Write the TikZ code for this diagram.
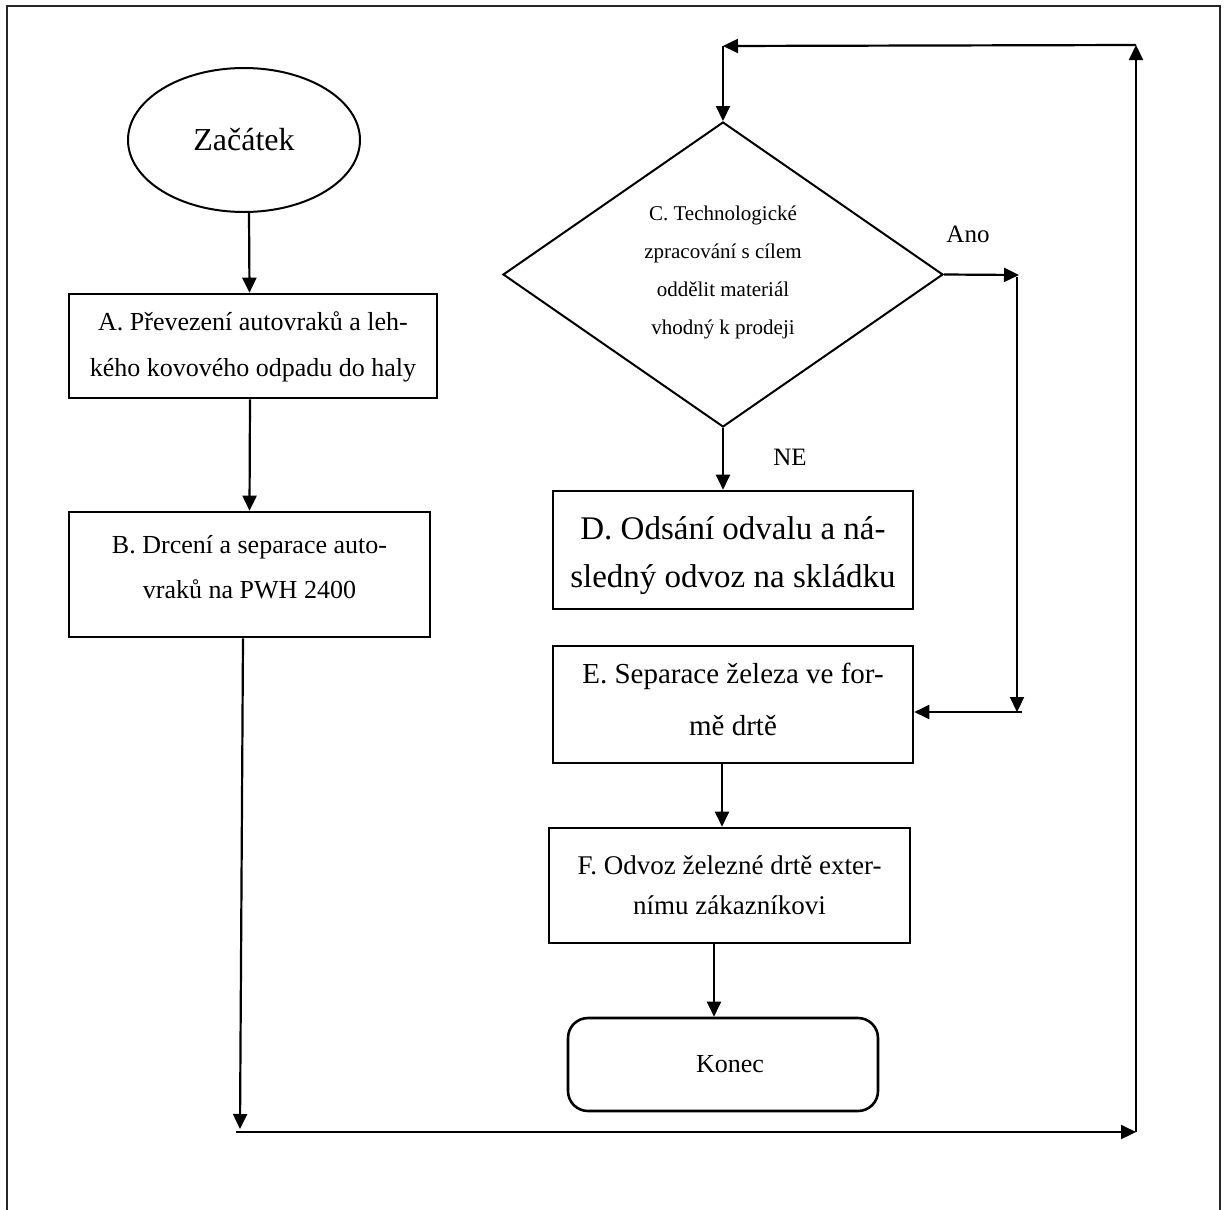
\documentclass[tikz,border=0pt]{standalone}
\usepackage{fontspec}
\setmainfont{Liberation Serif}
\usetikzlibrary{arrows.meta,shapes.geometric}
\begin{document}
\begin{tikzpicture}[x=1pt,y=-1pt,
  frame/.style={draw=black!85,line width=2.2pt},
  box/.style={draw,line width=2.6pt,rectangle,inner sep=0pt},
  txt/.style={align=center,inner sep=0pt},
  flow/.style={line width=2.2pt,-{Triangle[length=15pt,width=14pt]}},
  ]
\useasboundingbox (0,0) rectangle (1227,1210);
% outer frame
\draw[frame] (7,6) rectangle (1220,1215);

% start
\node[ellipse,draw,line width=2pt,minimum width=232pt,minimum height=144pt,inner sep=0pt,
      font=\fontsize{32}{38}\selectfont] (start) at (244,140) {Začátek};

% left column
\node[box,minimum width=368pt,minimum height=104pt] (A) at (253,346) {};
\node[txt,font=\fontsize{26}{46}\selectfont] (Atext) at ([yshift=-1pt]A.center)
  {A. Převezení autovraků a leh-\\kého kovového odpadu do haly};
\node[box,minimum width=361pt,minimum height=125pt] (B) at (249.5,574.5) {};
\node[txt,font=\fontsize{26}{45}\selectfont] (Btext) at ([yshift=7pt]B.center)
  {B. Drcení a separace auto-\\vraků na PWH 2400};

% decision
\node[diamond,draw,line width=2pt,minimum width=440pt,minimum height=305pt,inner sep=0pt]
  (C) at (723,274.5) {};
\node[txt,font=\fontsize{21}{38}\selectfont] (Ctext) at (723,272)
  {C. Technologické\\zpracování s cílem\\oddělit materiál\\vhodný k prodeji};

% right column
\node[box,minimum width=360pt,minimum height=118pt] (D) at (733,550) {};
\node[txt,font=\fontsize{33}{48}\selectfont] (Dtext) at ([yshift=-6pt]D.center)
  {D. Odsání odvalu a ná-\\sledný odvoz na skládku};
\node[box,minimum width=360pt,minimum height=117pt] (E) at (733,704.5) {};
\node[txt,font=\fontsize{29}{52}\selectfont] (Etext) at ([yshift=5pt]E.center)
  {E. Separace železa ve for-\\mě drtě};
\node[box,minimum width=361pt,minimum height=115pt] (F) at (729.5,885.5) {};
\node[txt,font=\fontsize{27}{40}\selectfont] (Ftext) at (F.center)
  {F. Odvoz železné drtě exter-\\nímu zákazníkovi};
\node[box,rounded corners=20pt,minimum width=310pt,minimum height=93pt] (K) at (723,1064.5) {};
\node[txt,font=\fontsize{26}{30}\selectfont] (Ktext) at ([xshift=7pt]K.center) {Konec};

% branch labels
\node[font=\fontsize{25}{30}\selectfont,anchor=base,inner sep=0pt] (ano) at (968,242) {Ano};
\node[font=\fontsize{25}{30}\selectfont,anchor=base,inner sep=0pt] (ne) at (790,465) {NE};

% connector end points
\coordinate (bdown) at (240,1129);
\coordinate (bl) at (236,1132);
\coordinate (br) at (1136,1132);
\coordinate (tr) at (1136,45);
\coordinate (tl) at (723,46);
\coordinate (yes) at (1019,275);
\coordinate (ytop) at (1017,277);
\coordinate (ydown) at (1017,712);
\coordinate (yret) at (1022,712);

% main flow
\draw[flow] ([xshift=5pt]start.south) -- ([xshift=-3.5pt]A.north);
\draw[flow] ([xshift=-3pt]A.south) -- (B.north);
\draw[flow] ([xshift=-6.5pt]B.south) -- (bdown);
\draw[flow] (bl) -- (br);
\draw[flow] (br) -- (tr);
\draw[flow] (tr) -- (tl);
\draw[flow] (tl) -- (C.north);
\draw[flow] (C.south) -- (C.south |- D.north);
\draw[flow] (C.east) -- (yes);
\draw[flow] (ytop) -- (ydown);
\draw[flow] (yret) -- (yret -| E.east);
\draw[flow] ([xshift=-11pt]E.south) -- ([xshift=-7.5pt]F.north);
\draw[flow] ([xshift=-15.5pt]F.south) -- ([xshift=-9pt]K.north);
\end{tikzpicture}
\end{document}
